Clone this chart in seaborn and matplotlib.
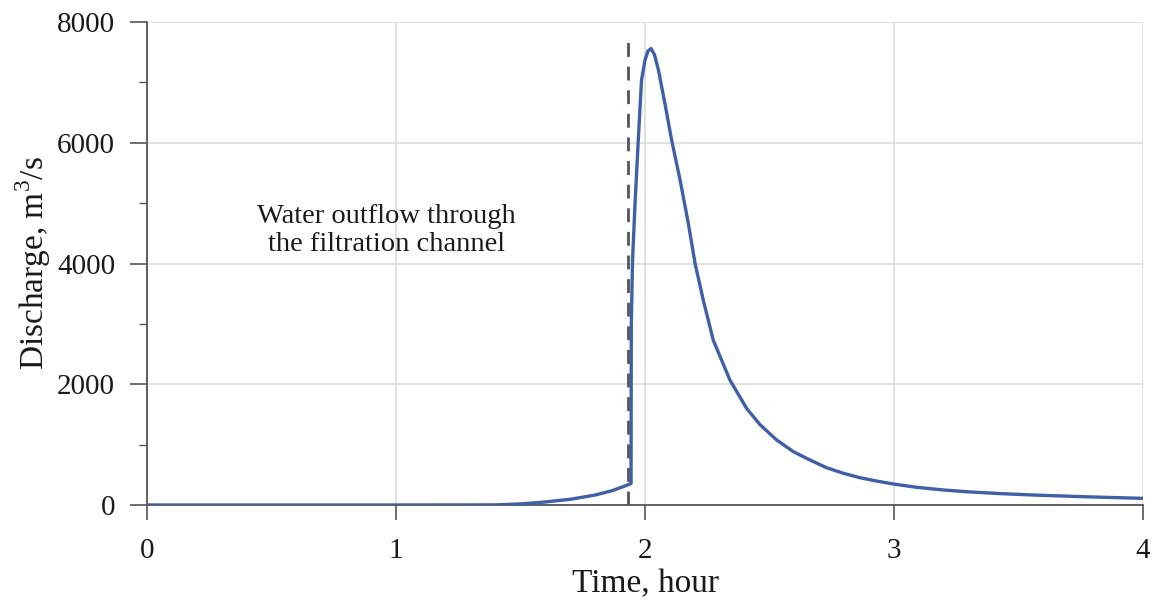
import matplotlib
matplotlib.use("Agg")
import matplotlib.pyplot as plt
import seaborn as sns
import pandas as pd
from matplotlib.ticker import MultipleLocator

# Data
time_hr = [0.0, 1.0, 1.40, 1.50, 1.60, 1.70, 1.80, 1.87, 1.91, 1.944,
           1.945, 1.950, 1.960, 1.973, 1.986, 2.000, 2.012, 2.024,
           2.038, 2.054, 2.080, 2.107, 2.141, 2.174, 2.201, 2.234,
           2.274, 2.341, 2.408, 2.462, 2.529, 2.596, 2.663, 2.729,
           2.797, 2.863, 2.930, 2.997, 3.091, 3.190, 3.290, 3.420,
           3.560, 3.780, 4.000]
discharge = [0, 0, 2, 18, 50, 95, 165, 240, 300, 355,
             3000, 4056, 4995, 6043, 7036, 7368, 7520, 7560,
             7460, 7202, 6650, 6043, 5381, 4664, 4002, 3394,
             2732, 2070, 1600, 1330, 1076, 883, 745, 618,
             525, 452, 397, 348, 293, 252, 220, 190,
             165, 135, 110]
dash_time = [1.93, 1.93]
dash_q = [0, 7700]
annotation = "Water outflow through\nthe filtration channel"
x_label = "Time, hour"
y_label = "Discharge, m$^3$/s"
x_ticks = [0, 1, 2, 3, 4]
y_ticks = [0, 2000, 4000, 6000, 8000]

sns.set_theme(style="white")
plt.rcParams['font.family'] = ['Liberation Serif', 'DejaVu Serif']
plt.rcParams['mathtext.fontset'] = 'custom'
plt.rcParams['mathtext.rm'] = 'Liberation Serif'

fig = plt.figure(figsize=(11.59, 6.03), dpi=100)
ax = fig.add_axes([147/1159, 1 - 505/603, (1143 - 147)/1159, (505 - 22)/603])

df = pd.DataFrame({"t": time_hr, "q": discharge})
sns.lineplot(data=df, x="t", y="q", ax=ax, color="#3f5fa6", linewidth=2.4,
             zorder=4, sort=False)
ax.plot(dash_time, dash_q, color="#555555", linewidth=2.0,
        linestyle=(0, (5, 3.5)), zorder=3)

ax.set_xlim(x_ticks[0], x_ticks[-1])
ax.set_ylim(y_ticks[0], y_ticks[-1])
ax.set_xticks(x_ticks)
ax.set_yticks(y_ticks)
ax.yaxis.set_minor_locator(MultipleLocator(1000))
ax.grid(True, which="major", color="#dcdcdc", linewidth=1.2)
ax.set_axisbelow(True)

for s in ["top", "right"]:
    ax.spines[s].set_visible(False)
for s in ["left", "bottom"]:
    ax.spines[s].set_color("#555555")
    ax.spines[s].set_linewidth(1.3)

ax.tick_params(axis="both", which="major", direction="out",
               width=1.2, color="#555555", labelsize=21, labelcolor="#1a1a1a")
ax.tick_params(axis="y", which="major", length=12, pad=11, left=True)
ax.tick_params(axis="x", which="major", length=11, pad=13, bottom=True)
ax.tick_params(axis="y", which="minor", direction="out", length=6,
               width=1.0, color="#555555", left=True)

ax.set_xlabel(x_label, fontsize=24, color="#1a1a1a", labelpad=3)
ax.set_ylabel(y_label, fontsize=24, color="#1a1a1a", labelpad=3)

ax.text(0.96, 4550, annotation, ha="center", va="center", fontsize=20.5,
        color="#1a1a1a", linespacing=1.15)

fig.savefig("out.png", dpi=100)
